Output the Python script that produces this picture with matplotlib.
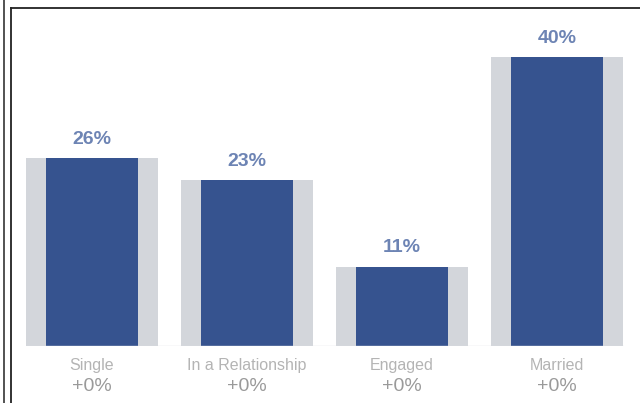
import matplotlib
matplotlib.use("Agg")
import matplotlib.pyplot as plt
from matplotlib.lines import Line2D
import numpy as np

plt.rcParams['font.family'] = ['Liberation Sans', 'DejaVu Sans']

categories = ["Single", "In a Relationship", "Engaged", "Married"]
shares = [26, 23, 11, 40]
changes = ["+0%", "+0%", "+0%", "+0%"]

W, H = 640, 403
fig = plt.figure(figsize=(W / 100, H / 100), dpi=100)
fig.patch.set_facecolor("white")

# axes spans full width; baseline sits 57 px above the bottom
ax = fig.add_axes([0, 57 / H, 1, (395 - 57) / H])
ax.set_xlim(-92 / 155, (W - 92) / 155)
ax.set_ylim(0, 338 / 7.22)
ax.axis("off")

x = np.arange(len(categories))
ax.bar(x, shares, width=132 / 155, color="#d3d6db", zorder=1)
ax.bar(x, shares, width=92 / 155, color="#36538f", zorder=2)
ax.hlines(0, x[0] - 66 / 155, x[-1] + 66 / 155, color="#dcdee2", lw=1, zorder=3)

for xi, v, cat, ch in zip(x, shares, categories, changes):
    ax.annotate(f"{v}%", (xi, v), xytext=(0, 13.5), textcoords="offset points",
                ha="center", va="center", fontsize=14, fontweight="bold",
                color="#6d84b4")
    ax.annotate(cat, (xi, 0), xytext=(0, -14), textcoords="offset points",
                ha="center", va="center", fontsize=11.5, color="#b4b4b4",
                annotation_clip=False)
    ax.annotate(ch, (xi, 0), xytext=(0, -29.5), textcoords="offset points",
                ha="center", va="center", fontsize=14, color="#9a9a9a",
                annotation_clip=False)

# container borders
fig.add_artist(Line2D([3.5 / W, 3.5 / W], [0, 1], color="#444444", lw=1.3))
fig.add_artist(Line2D([10.5 / W, 10.5 / W], [0, (H - 8) / H], color="#222222", lw=1.3))
fig.add_artist(Line2D([10.5 / W, 1], [(H - 8) / H, (H - 8) / H], color="#222222", lw=1.3))

fig.savefig("out.png", dpi=100)
